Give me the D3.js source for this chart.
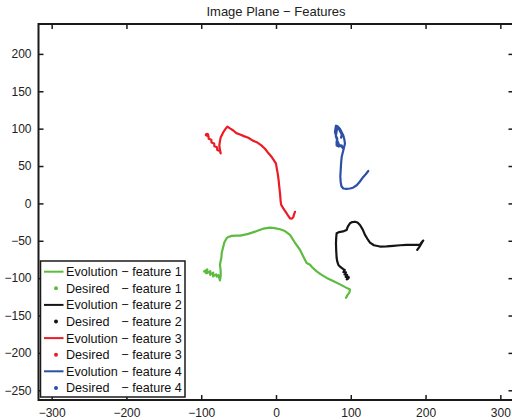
<!DOCTYPE html>
<html>
<head>
<meta charset="utf-8">
<script src="https://cdn.jsdelivr.net/npm/d3@7"></script>
<style>
  html, body { margin: 0; padding: 0; background: #fff; }
  svg { display: block; font-family: "Liberation Sans", Arial, Helvetica, sans-serif; }
  text { white-space: pre; }
</style>
</head>
<body>
<svg id="chart" width="512" height="420"></svg>
<script>
// ---- data ----
const chartTitle = "Image Plane \u2212 Features";
const xTicks = [-300, -200, -100, 0, 100, 200, 300];
const yTicks = [200, 150, 100, 50, 0, -50, -100, -150, -200, -250];
const featureNames = ["feature 1", "feature 2", "feature 3", "feature 4"];
const featureColors = ["#5dbb3f", "#151515", "#ec1c24", "#2c50a6"];

// Evolution of each feature in the image plane (x, y)
const evolution1 = [
  [93.6,-126.3],[96,-122],[98,-119.7],[98.9,-115.3],[94.5,-113],[85,-108],[75,-103],[67.8,-99.7],[60,-95],[54.4,-91],
  [48,-85],[45.5,-82],[41,-79.8],[37,-72],[32,-62],[25,-52],[18.7,-42],[12,-37],[5.3,-34.6],[-2,-33],[-8,-32.4],
  [-17,-33.8],[-23,-36],[-28,-37.8],[-37,-40.8],[-43,-42],[-48,-43],[-54,-43],[-59,-43.5],[-64,-45],[-66,-46.5],
  [-69,-52],[-70.5,-57.7],[-72.6,-66.5],[-73,-72],[-75,-82],[-74,-90],[-74,-97.6],[-75,-103],[-76,-99],[-77,-96],
  [-79,-98],[-79.9,-95],[-84.1,-97.65],[-83.9,-92.7],[-88.1,-95.4],[-87.9,-90.5],[-92.1,-93.2],[-91.9,-88.2],
  [-96.1,-90.9],[-94,-89.5]
];
const evolution2 = [
  [188.9,-62.1],[192.5,-57],[196.9,-49.7],[194,-53],[192.5,-55.5],[184,-55.5],[174.7,-55.5],[166,-56],[156.8,-56.8],
  [148,-57.5],[139,-57.7],[131,-56],[125.7,-52.4],[122,-47],[119,-42.2],[116,-35],[112.3,-28.9],[109,-25.5],
  [105.6,-24.5],[102,-25],[98.9,-26.6],[96,-31],[94.5,-35.5],[91,-37],[87.8,-37.8],[84,-38.5],[81.1,-39.9],
  [80.5,-46],[80.2,-53.2],[80.5,-63],[81.1,-73.1],[82,-78],[83.3,-82],[86,-85],[90,-88],[92.05,-89],[90.2,-91.85],
  [93.55,-92.3],[91.7,-95.1],[95.05,-95.5],[93.2,-98.35],[96.55,-98.8],[94.7,-101.6],[96.2,-100.6]
];
const evolution3 = [
  [25.4,-11.2],[24,-15],[23.1,-18.6],[21,-20.5],[18.7,-20],[16,-16],[14.3,-13.3],[12,-10],[9.8,-6.6],[7,-2],
  [6.3,2.1],[5.5,12],[4.4,22],[3.5,31],[2.3,39.9],[1,47],[0,53.2],[-3,58],[-5.7,62],[-10,67],[-14.7,73.1],
  [-20,78],[-25.8,81.9],[-31,84],[-37,87.8],[-43,90],[-48.1,92.2],[-53,94],[-57.1,97.5],[-61,100],[-65.1,102.8],
  [-68,99],[-70.5,95.2],[-72,92],[-73.9,88.6],[-75,83],[-75.8,77.5],[-75,72],[-74,67],[-75.1,70.1],[-78.6,71.4],
  [-78.9,75.1],[-82.4,76.4],[-82.7,80.1],[-86.2,81.4],[-86.5,85.1],[-90,86.4],[-90.3,90.1],[-93.8,91.4],[-93,92.8]
];
const evolution4 = [
  [123.4,43.4],[120,39],[116.7,35.4],[112,29],[107.9,24.3],[103,21],[98.9,19.9],[94,19.5],[90,19.9],[87.5,23],
  [86.5,28.7],[86,36],[86.5,44.3],[87,53],[87.8,62],[89,67],[90,70.9],[91,75],[92.2,79.8],[91.5,85],[90,90.8],
  [88,95],[85.6,99.7],[83,102],[80.2,104.1],[79.5,100],[78.9,95.2],[80.5,90],[82,86.4],[81,82],[81.1,77.5],
  [84,76],[87.8,77.5],[90,73.1],[88,76],[84,79],[82,84],[80,90],[81,96],[82,101],[84,100],[86,96],[88,92],[87,88]
];
// Desired feature positions
const desiredX = [-93, 96, -92, 82];
const desiredY = [-92, -99, 92, 102];

const evolutions = [evolution1, evolution2, evolution3, evolution4];

// ---- layout ----
const svg = d3.select("#chart");
const pLeft = 38.5, pRight = 513.5, pTop = 24, pBottom = 400;
const x = d3.scaleLinear().domain([-317.6, 317.6]).range([pLeft, pRight]);
const y = d3.scaleLinear().domain([-263, 240]).range([pBottom, pTop]);

// title
svg.append("text")
  .attr("x", (pLeft + pRight) / 2).attr("y", 16)
  .attr("text-anchor", "middle")
  .attr("font-size", 13).attr("fill", "#222")
  .text(chartTitle);

// clip
svg.append("clipPath").attr("id", "plotclip")
  .append("rect").attr("x", pLeft).attr("y", pTop).attr("width", pRight - pLeft).attr("height", pBottom - pTop);

// lines
const line = d3.line().x(d => x(d[0])).y(d => y(d[1]));
const plot = svg.append("g").attr("clip-path", "url(#plotclip)");
evolutions.forEach((ev, i) => {
  plot.append("path")
    .datum(ev)
    .attr("d", line)
    .attr("fill", "none")
    .attr("stroke", featureColors[i])
    .attr("stroke-width", 2.2)
    .attr("stroke-linejoin", "round")
    .attr("stroke-linecap", "round");
  plot.append("circle")
    .attr("cx", x(desiredX[i])).attr("cy", y(desiredY[i]))
    .attr("r", 2).attr("fill", featureColors[i]);
});

// axes
const tickLen = 5;
const axisColor = "#1a1a1a";
const axG = svg.append("g");
const fmt = d => d3.format("")(d).replace("-", "\u2212");
const xBottom = d3.axisBottom(x).tickValues(xTicks).tickSizeInner(-tickLen).tickSizeOuter(0)
  .tickPadding(8).tickFormat(fmt);
const gx = axG.append("g").attr("transform", `translate(0,${pBottom})`).call(xBottom);
const xTopAxis = d3.axisTop(x).tickValues(xTicks).tickSizeInner(-tickLen).tickSizeOuter(0).tickFormat("");
const gxt = axG.append("g").attr("transform", `translate(0,${pTop})`).call(xTopAxis);
const yLeft = d3.axisLeft(y).tickValues(yTicks).tickSizeInner(-tickLen).tickSizeOuter(0)
  .tickPadding(7).tickFormat(fmt);
const gy = axG.append("g").attr("transform", `translate(${pLeft},0)`).call(yLeft);
const yRightAxis = d3.axisRight(y).tickValues(yTicks).tickSizeInner(-tickLen).tickSizeOuter(0).tickFormat("");
const gyr = axG.append("g").attr("transform", `translate(${pRight},0)`).call(yRightAxis);
[gx, gxt, gy, gyr].forEach(g => {
  g.select(".domain").remove();
  g.selectAll(".tick line").attr("stroke", axisColor).attr("stroke-width", 1.5);
  g.selectAll("text").attr("font-size", 12).attr("fill", "#222")
    .attr("font-family", "'Liberation Sans', Arial, sans-serif");
});
axG.append("rect")
  .attr("x", pLeft).attr("y", pTop).attr("width", pRight - pLeft).attr("height", pBottom - pTop)
  .attr("fill", "none").attr("stroke", axisColor).attr("stroke-width", 2);

// legend
const lg = svg.append("g");
const lgX = 40.5, lgY = 261, lgW = 144.5, lgH = 136;
lg.append("rect").attr("x", lgX).attr("y", lgY).attr("width", lgW).attr("height", lgH)
  .attr("fill", "#fff").attr("stroke", axisColor).attr("stroke-width", 1.5);
const rowStep = 16.6, row0 = 271.7, textX = 66;
let dashOffset = null;
featureNames.forEach((name, i) => {
  const ye = row0 + (2 * i) * rowStep;
  const yd = row0 + (2 * i + 1) * rowStep;
  lg.append("line").attr("x1", 44).attr("x2", 63.5).attr("y1", ye).attr("y2", ye)
    .attr("stroke", featureColors[i]).attr("stroke-width", 2);
  const t = lg.append("text").attr("x", textX).attr("y", ye).attr("dy", "0.35em")
    .attr("font-size", 12.6).attr("fill", "#111")
    .text("Evolution \u2212 " + name);
  if (dashOffset === null) dashOffset = t.node().getSubStringLength(0, 10);
  lg.append("circle").attr("cx", 56).attr("cy", yd).attr("r", 2).attr("fill", featureColors[i]);
  const td = lg.append("text").attr("x", textX).attr("y", yd).attr("dy", "0.35em")
    .attr("font-size", 12.6).attr("fill", "#111");
  td.append("tspan").text("Desired");
  td.append("tspan").attr("x", textX + dashOffset).text("\u2212 " + name);
});
</script>
</body>
</html>
